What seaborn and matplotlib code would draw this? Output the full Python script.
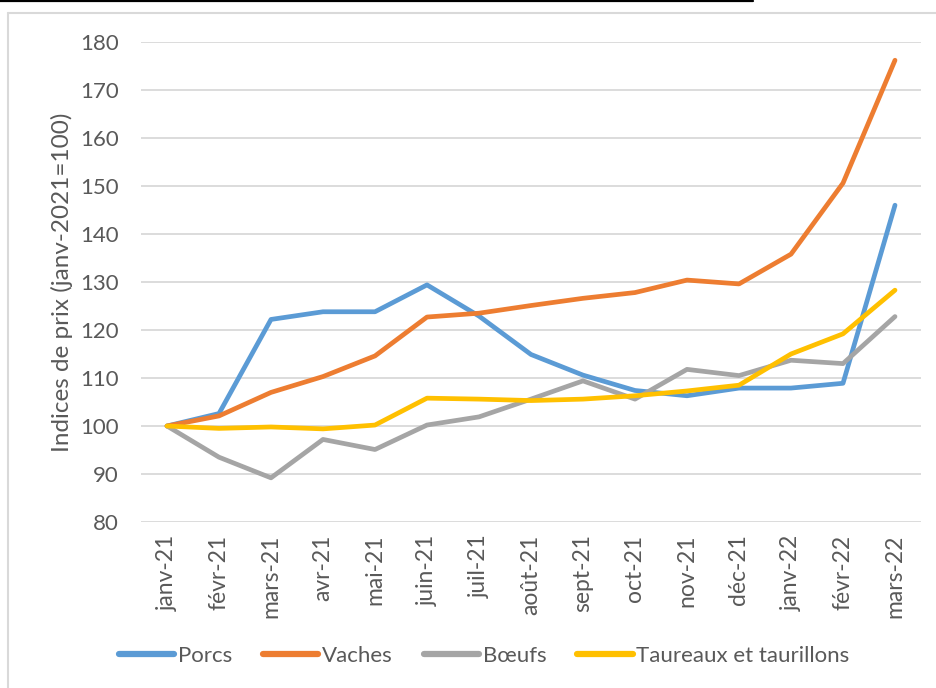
import matplotlib
matplotlib.use("Agg")
import matplotlib.pyplot as plt
import matplotlib.lines as mlines
import seaborn as sns
import pandas as pd
import numpy as np

months = ["janv-21", "févr-21", "mars-21", "avr-21", "mai-21", "juin-21", "juil-21",
          "août-21", "sept-21", "oct-21", "nov-21", "déc-21", "janv-22", "févr-22", "mars-22"]
porcs = [100, 102.6, 122.2, 123.8, 123.8, 129.4, 122.9, 114.9, 110.6, 107.4, 106.3, 107.9, 107.9, 108.9, 146.0]
vaches = [100, 102.1, 107.0, 110.3, 114.6, 122.7, 123.5, 125.1, 126.6, 127.8, 130.4, 129.6, 135.8, 150.6, 176.2]
boeufs = [100, 93.5, 89.2, 97.2, 95.1, 100.2, 101.9, 105.6, 109.4, 105.6, 111.8, 110.5, 113.7, 113.0, 122.8]
taureaux = [100, 99.5, 99.8, 99.4, 100.2, 105.8, 105.6, 105.3, 105.6, 106.3, 107.3, 108.5, 115.0, 119.2, 128.3]
series_names = ["Porcs", "Vaches", "Bœufs", "Taureaux et taurillons"]
y_label = "Indices de prix (janv-2021=100)"

colors = ["#5B9BD5", "#ED7D31", "#A5A5A5", "#FFC000"]

rows = []
for name, vals in zip(series_names, [porcs, vaches, boeufs, taureaux]):
    for i, v in enumerate(vals):
        rows.append({"idx": i, "mois": months[i], "valeur": v, "serie": name})
df = pd.DataFrame(rows)

sns.set_theme(style="white")
plt.rcParams["font.family"] = ["Lato", "DejaVu Sans"]
text_color = "#595959"
grid_color = "#D9D9D9"
fs = 16

fig = plt.figure(figsize=(9.36, 6.88), dpi=100)
ax = fig.add_axes([141 / 936, 1 - 522 / 688, 780 / 936, 480 / 688])

sns.lineplot(data=df, x="idx", y="valeur", hue="serie", hue_order=series_names,
             palette=colors, linewidth=3.4, ax=ax, legend=False, sort=False)
for ln in ax.get_lines():
    ln.set_solid_capstyle("round")
    ln.set_solid_joinstyle("round")

ax.set_xlim(-0.5, len(months) - 0.5)
ax.set_ylim(80, 180)
ax.set_yticks(np.arange(80, 181, 10))
ax.set_xticks(range(len(months)))
ax.set_xticklabels(months, rotation=90, fontsize=16.5, color=text_color)
ax.tick_params(axis="y", labelsize=fs, labelcolor=text_color, length=0, pad=16)
ax.tick_params(axis="x", length=0, pad=9)
ax.yaxis.grid(True, color=grid_color, linewidth=1.3)
ax.set_axisbelow(True)
for s in ax.spines.values():
    s.set_visible(False)
ax.set_xlabel("")
ax.set_ylabel(y_label, fontsize=17.5, color=text_color)
ax.yaxis.set_label_coords(-0.087, 0.5)

handles = [mlines.Line2D([], [], color=c, linewidth=4.5, solid_capstyle="round") for c in colors]
fig.legend(handles, series_names, loc="center", bbox_to_anchor=(484 / 936, 1 - 656 / 688),
           ncol=4, frameon=False, fontsize=fs, labelcolor=text_color,
           handlelength=2.5, handletextpad=0.15, columnspacing=1.4)

# chart border
fig.add_artist(mlines.Line2D([8 / 936, 1.0], [1 - 13 / 688, 1 - 13 / 688],
                             transform=fig.transFigure, color=grid_color, linewidth=1.5))
fig.add_artist(mlines.Line2D([8 / 936, 8 / 936], [0.0, 1 - 13 / 688],
                             transform=fig.transFigure, color=grid_color, linewidth=1.5))
# top black rule
fig.add_artist(mlines.Line2D([0, 753 / 936], [1 - 1 / 688, 1 - 1 / 688],
                             transform=fig.transFigure, color="black", linewidth=1.6))

fig.savefig("out.png", dpi=100)
